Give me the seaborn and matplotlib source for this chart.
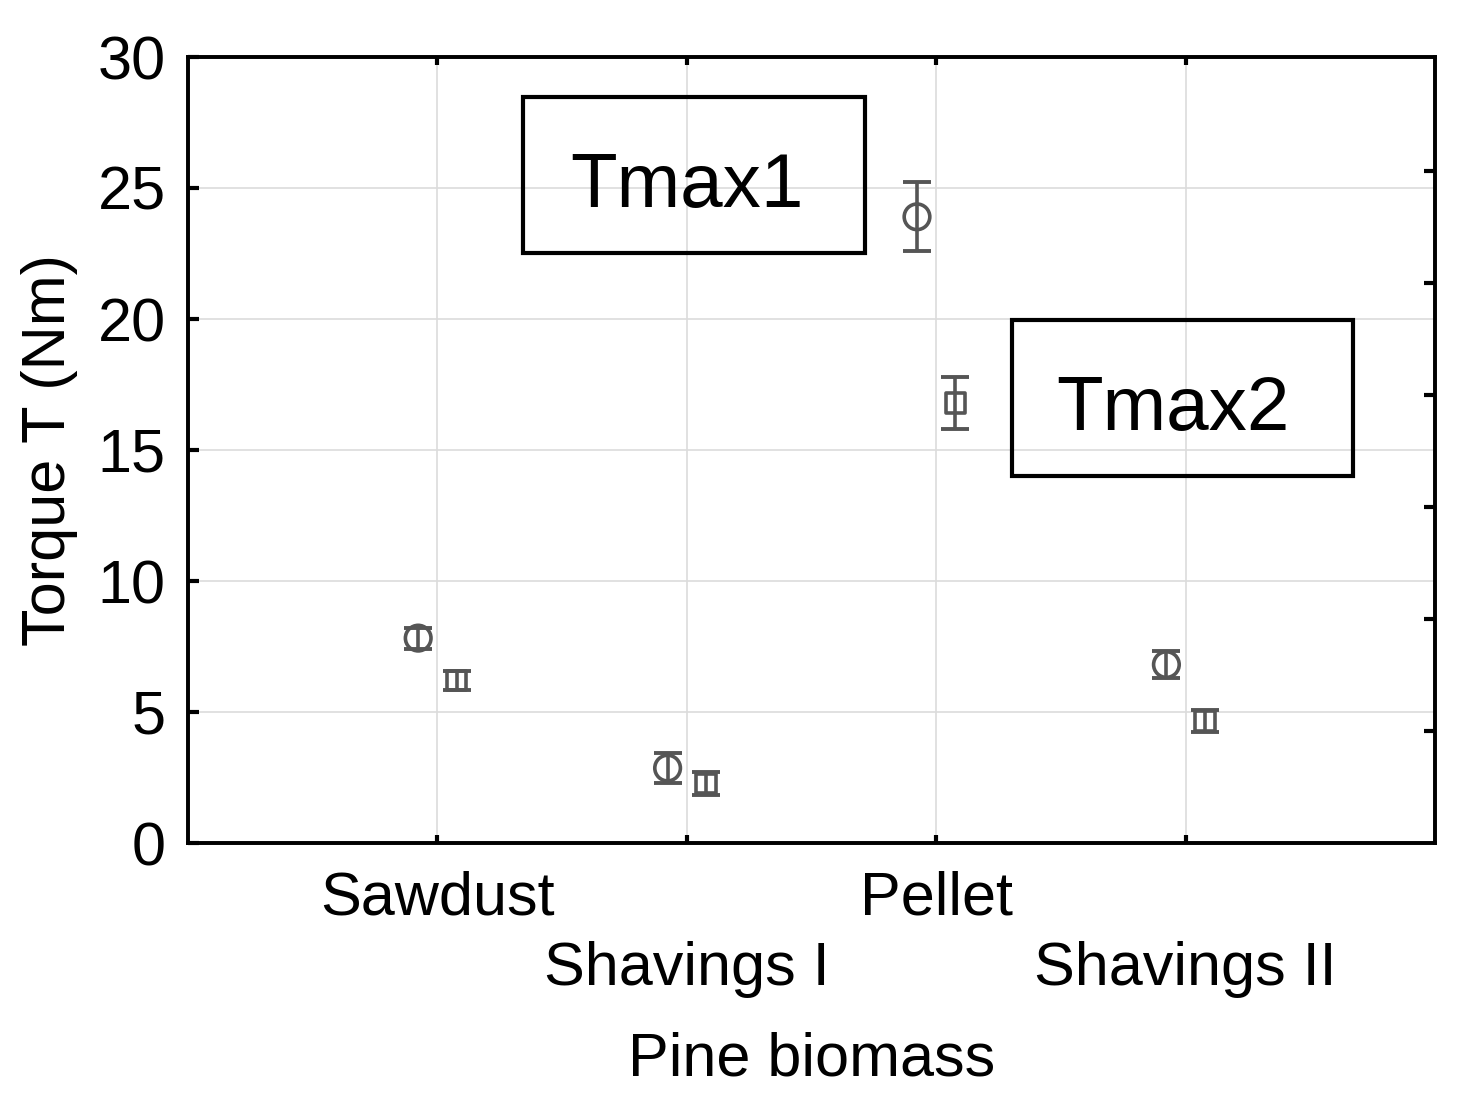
import numpy as np
import pandas as pd
import matplotlib
matplotlib.use('Agg')
import matplotlib.pyplot as plt
import seaborn as sns
from matplotlib.patches import Rectangle

## data
materials = ['Sawdust', 'Shavings I', 'Pellet', 'Shavings II']
tmax1 = [7.82, 2.86, 23.9, 6.81]
tmax1_err = [0.40, 0.57, 1.32, 0.52]
tmax2 = [6.2, 2.27, 16.8, 4.66]
tmax2_err = [0.35, 0.44, 1.0, 0.42]

sns.set_style('white')
plt.rcParams['font.family'] = ['Liberation Sans', 'DejaVu Sans']
plt.rcParams['text.color'] = 'black'
plt.rcParams['axes.labelcolor'] = 'black'
plt.rcParams['xtick.color'] = 'black'
plt.rcParams['ytick.color'] = 'black'

df = pd.DataFrame({
    'pos': list(np.arange(1, 5) - 0.077) + list(np.arange(1, 5) + 0.077),
    'torque': tmax1 + tmax2,
    'err': tmax1_err + tmax2_err,
    'series': ['Tmax1'] * 4 + ['Tmax2'] * 4,
})

fig = plt.figure(figsize=(14.77, 10.97), dpi=100)
ax = fig.add_axes([188 / 1477, 1 - 843 / 1097, (1435 - 188) / 1477, (843 - 57) / 1097])

grey = '#555555'
## error bars first, markers on top (hollow)
for name, grp in df.groupby('series'):
    ax.errorbar(grp['pos'], grp['torque'], yerr=grp['err'], fmt='none',
                ecolor=grey, elinewidth=2.6, capsize=10, capthick=2.8, zorder=3)
sns.scatterplot(data=df, x='pos', y='torque', style='series', markers={'Tmax1': 'o', 'Tmax2': 's'},
                color=grey, s=[340] * 4 + [200] * 4, linewidth=2.6, legend=False, ax=ax, zorder=4)
for coll in ax.collections:
    if hasattr(coll, 'get_offsets') and len(coll.get_offsets()) == 8:
        coll.set_facecolor('none')
        coll.set_edgecolor(grey)

ax.set_xlim(0, 5)
ax.set_ylim(0, 30)
ax.set_yticks(np.arange(0, 31, 5))
ax.set_xticks(np.arange(1, 5))
ax.set_xticklabels([m if i % 2 == 0 else '\n' + m for i, m in enumerate(materials)],
                   linespacing=1.3)
ax.grid(True, color='#dcdcdc', linewidth=1.2)
ax.set_axisbelow(True)

ax.tick_params(axis='both', direction='in', length=8, width=3, labelsize=44, pad=16,
               top=True, bottom=True, left=True, right=False)
ax.tick_params(axis='x', length=6, pad=20)
for sp in ax.spines.values():
    sp.set_linewidth(2.6)
    sp.set_color('black')

ax.set_xlabel('Pine biomass', fontsize=44, labelpad=24)
ax.set_ylabel('Torque T (Nm)', fontsize=44, labelpad=14)

## secondary right axis ticks (no labels)
ax2 = ax.twinx()
ax2.set_ylim(0, 7.02)
ax2.set_yticks(np.arange(1, 7))
ax2.tick_params(axis='y', direction='in', length=8, width=3, labelright=False)
ax2.grid(False)
for sp in ax2.spines.values():
    sp.set_linewidth(2.6)
    sp.set_color('black')

## annotation boxes
ax.add_patch(Rectangle((1.343, 22.52), 1.371, 5.95, fill=False, edgecolor='black', linewidth=3, zorder=5))
ax.text(2.0, 25.0, 'Tmax1', fontsize=55, ha='center', va='center', zorder=6)
ax.add_patch(Rectangle((3.303, 14.0), 1.367, 5.95, fill=False, edgecolor='black', linewidth=3, zorder=5))
ax.text(3.95, 16.5, 'Tmax2', fontsize=55, ha='center', va='center', zorder=6)

fig.savefig('out.png', dpi=100)
